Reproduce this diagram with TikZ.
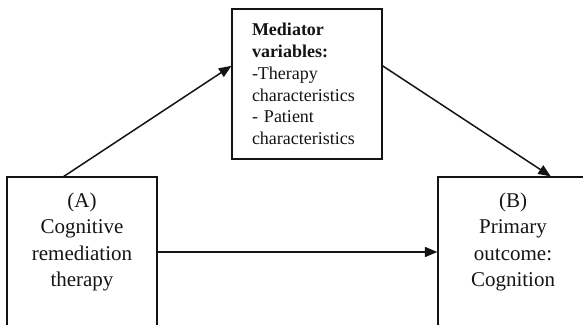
\documentclass[tikz,border=0pt]{standalone}
\usepackage{fontspec}
\setmainfont{Liberation Serif}
\usepackage{tikz}
\usetikzlibrary{arrows.meta, positioning, calc}
\definecolor{InkBlack}{HTML}{141414}
\tikzset{
  sidebox/.style={rectangle, draw=InkBlack, line width=1.2pt, minimum width=150pt, minimum height=170pt},
  sidetext/.style={inner sep=0pt, align=center, text=InkBlack, font=\fontsize{21}{26.5}\selectfont},
  mediatorbox/.style={rectangle, draw=InkBlack, line width=1.2pt, minimum width=150pt, minimum height=150pt, text width=110pt, align=left, inner sep=0pt, text=InkBlack, font=\fontsize{18}{21.8}\selectfont},
  arrow/.style={-{Triangle[length=12.5pt,width=10pt]}, line width=1.5pt, InkBlack}
}

\begin{document}
\begin{tikzpicture}[x=1pt, y=1pt]
  \useasboundingbox (0,0) rectangle (583,324);
  \clip (0,0) rectangle (583,324);

  % Boxes
  \node[mediatorbox] (mediator) at (307,240) {\textbf{Mediator}\\ \textbf{variables:}\\ -Therapy\\ characteristics\\ - Patient\\ characteristics};
  \node[sidebox] (therapy) at (82,62) {};
  \node[sidebox] (outcome) at (513,62) {};
  \node[sidetext, below=16pt of therapy.north] (therapytext) {(A)\\ Cognitive\\ remediation\\ therapy};
  \node[sidetext, below=16pt of outcome.north] (outcometext) {(B)\\ Primary\\ outcome:\\ Cognition};

  % Arrows
  \draw[arrow] ($(therapy.north west)!0.38!(therapy.north east)$) -- ($(mediator.north west)!0.38!(mediator.south west)$);
  \draw[arrow] ($(mediator.north east)!0.38!(mediator.south east)$) -- ($(outcome.north west)!0.75!(outcome.north east)$);
  \draw[arrow] ([yshift=10pt]therapy.east) -- ([yshift=10pt]outcome.west);
\end{tikzpicture}
\end{document}
